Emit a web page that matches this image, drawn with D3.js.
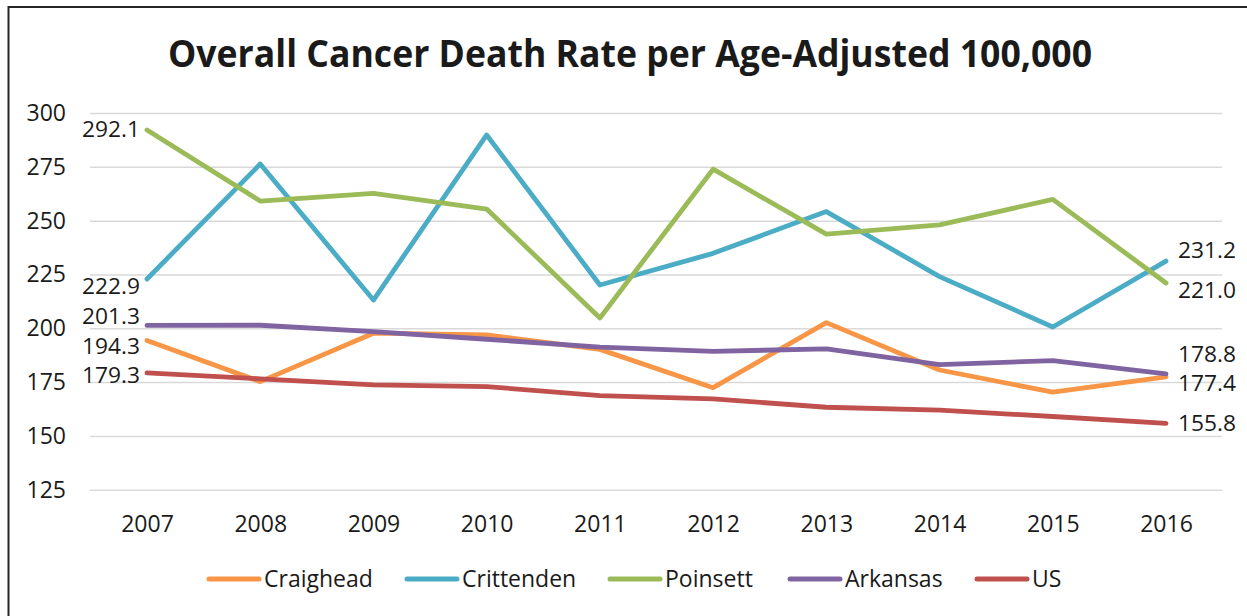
<!DOCTYPE html>
<html>
<head>
<meta charset="utf-8">
<script src="https://cdn.jsdelivr.net/npm/d3@7/dist/d3.min.js"></script>
<style>
  html, body { margin: 0; padding: 0; background: #fff; }
  svg { display: block; }
  text { font-family: "Open Sans", "Noto Sans", sans-serif; fill: #1a1a1a; }
</style>
</head>
<body>
<svg id="chart" width="1247" height="616"></svg>
<script>
const years = ["2007","2008","2009","2010","2011","2012","2013","2014","2015","2016"];
const yTicks = [125, 150, 175, 200, 225, 250, 275, 300];
const seriesNames = ["Craighead", "Crittenden", "Poinsett", "Arkansas", "US"];
const seriesColors = ["#F79646", "#4BACC6", "#9BBB59", "#8064A2", "#C0504D"];
const craighead  = [194.3, 175.2, 197.7, 196.9, 190.2, 172.4, 202.6, 180.6, 170.3, 177.4];
const crittenden = [222.9, 276.3, 213.1, 289.8, 220.1, 234.8, 254.2, 224.0, 200.6, 231.2];
const poinsett   = [292.1, 259.1, 262.7, 255.4, 204.8, 273.9, 243.7, 248.0, 259.9, 221.0];
const arkansas   = [201.3, 201.4, 198.4, 194.9, 191.2, 189.3, 190.4, 183.1, 185.0, 178.8];
const us         = [179.3, 176.5, 173.7, 172.9, 168.7, 167.2, 163.3, 162.0, 159.0, 155.8];
const seriesValues = [craighead, crittenden, poinsett, arkansas, us];
const title = "Overall Cancer Death Rate per Age-Adjusted 100,000";

// data label placement: [series index, year index, side, dy]
const labelSpecs = [
  [2, 0, "left", 0], [1, 0, "left", 8], [3, 0, "left", -9], [0, 0, "left", 6], [4, 0, "left", 3],
  [1, 9, "right", -10], [2, 9, "right", 8], [3, 9, "right", -19], [0, 9, "right", 7], [4, 9, "right", 0]
];

const svg = d3.select("#chart");

// outer chart border (top and left visible)
svg.append("rect")
  .attr("x", 8.5).attr("y", 7)
  .attr("width", 1300).attr("height", 700)
  .attr("fill", "none").attr("stroke", "#262626").attr("stroke-width", 2);

const x = d3.scalePoint().domain(years).range([147, 1166]);
const y = d3.scaleLinear().domain([125, 300]).range([489.7, 113]);

// gridlines
const grid = d3.axisLeft(y).tickValues(yTicks).tickSize(-(1222 - 90)).tickFormat("");
svg.append("g").attr("transform", "translate(90,0)").call(grid)
  .call(g => g.select(".domain").remove())
  .call(g => g.selectAll("line").attr("stroke", "#d9d9d9").attr("stroke-width", 1.5));

// y axis labels
const yAxis = d3.axisLeft(y).tickValues(yTicks).tickSize(0).tickPadding(0);
svg.append("g").attr("transform", "translate(66,0)").call(yAxis)
  .call(g => g.select(".domain").remove())
  .call(g => g.selectAll("text").attr("font-size", 23).attr("fill", "#1a1a1a")
     .attr("font-family", '"Open Sans", sans-serif').attr("dy", "0.32em"));

// x axis labels
const xAxis = d3.axisBottom(x).tickSize(0).tickPadding(0);
svg.append("g").attr("transform", "translate(0,515)").call(xAxis)
  .call(g => g.select(".domain").remove())
  .call(g => g.selectAll("text").attr("font-size", 23).attr("fill", "#1a1a1a")
     .attr("font-family", '"Open Sans", sans-serif').attr("dy", "0.72em"));

// lines
const line = d3.line().x((d, i) => x(years[i])).y(d => y(d));
seriesValues.forEach((vals, si) => {
  svg.append("path")
    .datum(vals)
    .attr("d", line)
    .attr("fill", "none")
    .attr("stroke", seriesColors[si])
    .attr("stroke-width", 4.8)
    .attr("stroke-linejoin", "round")
    .attr("stroke-linecap", "round");
});

// data labels
labelSpecs.forEach(([si, yi, side, dy]) => {
  const v = seriesValues[si][yi];
  svg.append("text")
    .attr("x", x(years[yi]) + (side === "left" ? -7 : 12))
    .attr("y", y(v) + dy)
    .attr("dy", "0.35em")
    .attr("text-anchor", side === "left" ? "end" : "start")
    .attr("font-size", 21)
    .attr("textLength", 58)
    .attr("lengthAdjust", "spacingAndGlyphs")
    .text(v.toFixed(1));
});

// title
const t = svg.append("text")
  .attr("x", 630).attr("y", 67)
  .attr("text-anchor", "middle")
  .attr("font-size", 37)
  .attr("font-weight", "bold")
  .attr("fill", "#000")
  .text(title);
t.attr("textLength", 924).attr("lengthAdjust", "spacingAndGlyphs");

// legend
const legendX = [207, 405, 608, 788, 975];
const lg = svg.append("g").attr("transform", "translate(0,579)");
seriesNames.forEach((name, i) => {
  lg.append("line")
    .attr("x1", legendX[i] + 2).attr("x2", legendX[i] + 52)
    .attr("y1", 0).attr("y2", 0)
    .attr("stroke", seriesColors[i]).attr("stroke-width", 5)
    .attr("stroke-linecap", "round");
  lg.append("text")
    .attr("x", legendX[i] + 57).attr("y", 0).attr("dy", "0.35em")
    .attr("font-size", 23)
    .text(name);
});
</script>
</body>
</html>
